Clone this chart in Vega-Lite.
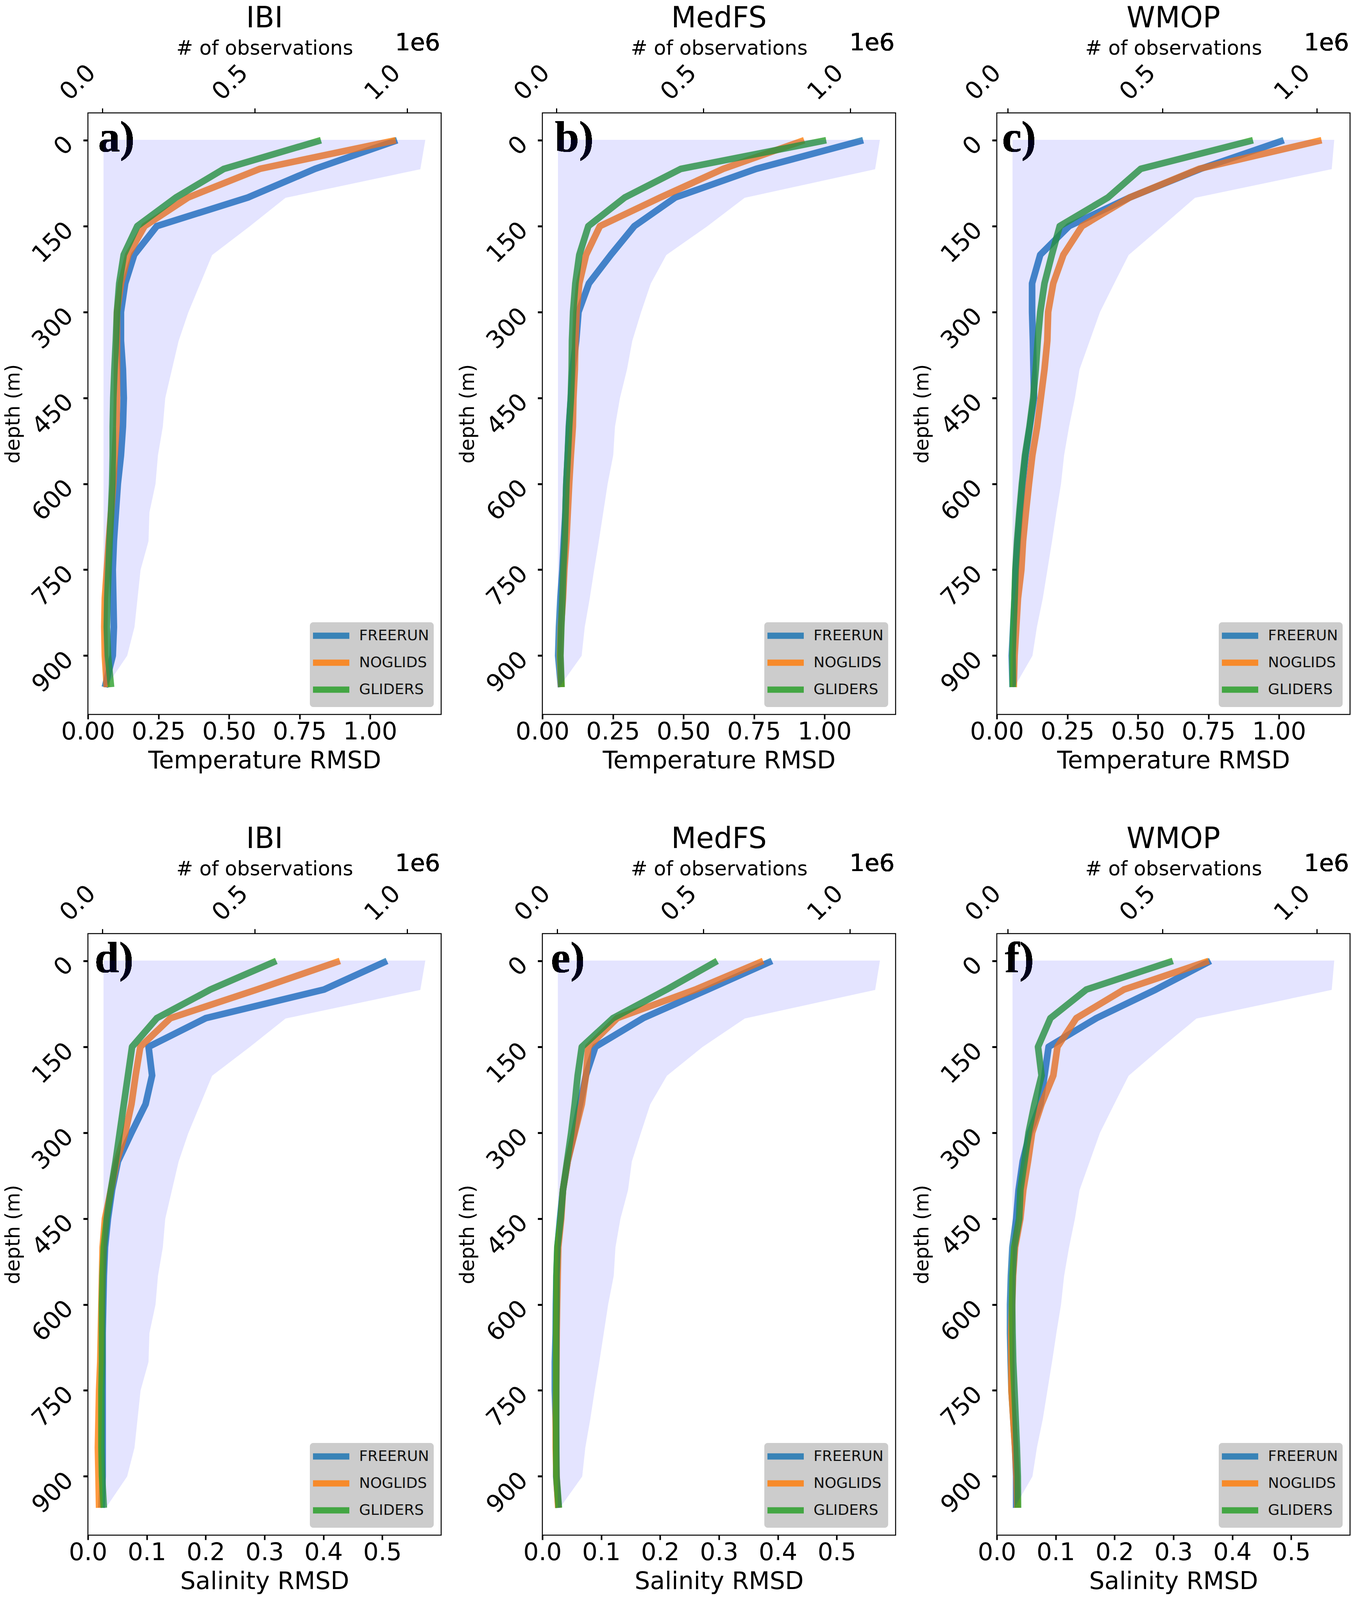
{
"$schema":"https://vega.github.io/schema/vega-lite/v6.json",
"background":"white",
"padding":{"left":6,"top":10,"right":0,"bottom":0},
"datasets":{"rows":[
{"panel":"a","depth":0,"FREERUN":1.096,"NOGLIDS":1.091,"GLIDERS":0.826,"obs":1058000,"obsMin":5000},
{"panel":"a","depth":50,"FREERUN":0.805,"NOGLIDS":0.609,"GLIDERS":0.482,"obs":1042000,"obsMin":5000},
{"panel":"a","depth":100,"FREERUN":0.567,"NOGLIDS":0.355,"GLIDERS":0.312,"obs":600000,"obsMin":5000},
{"panel":"a","depth":150,"FREERUN":0.244,"NOGLIDS":0.201,"GLIDERS":0.175,"obs":482000,"obsMin":5000},
{"panel":"a","depth":200,"FREERUN":0.164,"NOGLIDS":0.143,"GLIDERS":0.127,"obs":359000,"obsMin":5000},
{"panel":"a","depth":250,"FREERUN":0.132,"NOGLIDS":0.117,"GLIDERS":0.111,"obs":320000,"obsMin":5000},
{"panel":"a","depth":300,"FREERUN":0.117,"NOGLIDS":0.103,"GLIDERS":0.103,"obs":281000,"obsMin":5000},
{"panel":"a","depth":350,"FREERUN":0.117,"NOGLIDS":0.103,"GLIDERS":0.099,"obs":249000,"obsMin":5000},
{"panel":"a","depth":400,"FREERUN":0.124,"NOGLIDS":0.103,"GLIDERS":0.094,"obs":227000,"obsMin":5000},
{"panel":"a","depth":450,"FREERUN":0.127,"NOGLIDS":0.103,"GLIDERS":0.09,"obs":205000,"obsMin":5000},
{"panel":"a","depth":500,"FREERUN":0.124,"NOGLIDS":0.101,"GLIDERS":0.088,"obs":197000,"obsMin":5000},
{"panel":"a","depth":550,"FREERUN":0.117,"NOGLIDS":0.095,"GLIDERS":0.088,"obs":181000,"obsMin":5000},
{"panel":"a","depth":600,"FREERUN":0.106,"NOGLIDS":0.09,"GLIDERS":0.086,"obs":173000,"obsMin":5000},
{"panel":"a","depth":650,"FREERUN":0.099,"NOGLIDS":0.082,"GLIDERS":0.082,"obs":153000,"obsMin":5000},
{"panel":"a","depth":700,"FREERUN":0.092,"NOGLIDS":0.074,"GLIDERS":0.077,"obs":150000,"obsMin":5000},
{"panel":"a","depth":750,"FREERUN":0.088,"NOGLIDS":0.067,"GLIDERS":0.073,"obs":124000,"obsMin":5000},
{"panel":"a","depth":800,"FREERUN":0.09,"NOGLIDS":0.06,"GLIDERS":0.069,"obs":114000,"obsMin":5000},
{"panel":"a","depth":850,"FREERUN":0.092,"NOGLIDS":0.058,"GLIDERS":0.067,"obs":104000,"obsMin":5000},
{"panel":"a","depth":900,"FREERUN":0.088,"NOGLIDS":0.06,"GLIDERS":0.071,"obs":80000,"obsMin":5000},
{"panel":"a","depth":955,"FREERUN":0.06,"NOGLIDS":0.067,"GLIDERS":0.082,"obs":10000,"obsMin":5000},
{"panel":"b","depth":0,"FREERUN":1.137,"NOGLIDS":0.928,"GLIDERS":1.006,"obs":1100000,"obsMin":6500},
{"panel":"b","depth":50,"FREERUN":0.758,"NOGLIDS":0.641,"GLIDERS":0.491,"obs":1084000,"obsMin":6500},
{"panel":"b","depth":100,"FREERUN":0.471,"NOGLIDS":0.418,"GLIDERS":0.292,"obs":640000,"obsMin":6500},
{"panel":"b","depth":150,"FREERUN":0.326,"NOGLIDS":0.204,"GLIDERS":0.163,"obs":512000,"obsMin":6500},
{"panel":"b","depth":200,"FREERUN":0.243,"NOGLIDS":0.155,"GLIDERS":0.131,"obs":373000,"obsMin":6500},
{"panel":"b","depth":250,"FREERUN":0.165,"NOGLIDS":0.131,"GLIDERS":0.117,"obs":320000,"obsMin":6500},
{"panel":"b","depth":300,"FREERUN":0.128,"NOGLIDS":0.121,"GLIDERS":0.109,"obs":287000,"obsMin":6500},
{"panel":"b","depth":350,"FREERUN":0.12,"NOGLIDS":0.117,"GLIDERS":0.105,"obs":257000,"obsMin":6500},
{"panel":"b","depth":400,"FREERUN":0.107,"NOGLIDS":0.115,"GLIDERS":0.104,"obs":239000,"obsMin":6500},
{"panel":"b","depth":450,"FREERUN":0.101,"NOGLIDS":0.11,"GLIDERS":0.101,"obs":215000,"obsMin":6500},
{"panel":"b","depth":500,"FREERUN":0.094,"NOGLIDS":0.108,"GLIDERS":0.095,"obs":198000,"obsMin":6500},
{"panel":"b","depth":550,"FREERUN":0.09,"NOGLIDS":0.101,"GLIDERS":0.09,"obs":192000,"obsMin":6500},
{"panel":"b","depth":600,"FREERUN":0.085,"NOGLIDS":0.095,"GLIDERS":0.085,"obs":173000,"obsMin":6500},
{"panel":"b","depth":650,"FREERUN":0.082,"NOGLIDS":0.09,"GLIDERS":0.082,"obs":158000,"obsMin":6500},
{"panel":"b","depth":700,"FREERUN":0.076,"NOGLIDS":0.085,"GLIDERS":0.079,"obs":143000,"obsMin":6500},
{"panel":"b","depth":750,"FREERUN":0.071,"NOGLIDS":0.078,"GLIDERS":0.074,"obs":127000,"obsMin":6500},
{"panel":"b","depth":800,"FREERUN":0.064,"NOGLIDS":0.073,"GLIDERS":0.071,"obs":112000,"obsMin":6500},
{"panel":"b","depth":850,"FREERUN":0.059,"NOGLIDS":0.066,"GLIDERS":0.067,"obs":95000,"obsMin":6500},
{"panel":"b","depth":900,"FREERUN":0.056,"NOGLIDS":0.063,"GLIDERS":0.064,"obs":84500,"obsMin":6500},
{"panel":"b","depth":955,"FREERUN":0.066,"NOGLIDS":0.067,"GLIDERS":0.068,"obs":8000,"obsMin":6500},
{"panel":"c","depth":0,"FREERUN":1.017,"NOGLIDS":1.151,"GLIDERS":0.908,"obs":1055000,"obsMin":16600},
{"panel":"c","depth":50,"FREERUN":0.722,"NOGLIDS":0.717,"GLIDERS":0.51,"obs":1047000,"obsMin":16600},
{"panel":"c","depth":100,"FREERUN":0.471,"NOGLIDS":0.471,"GLIDERS":0.394,"obs":605000,"obsMin":16600},
{"panel":"c","depth":150,"FREERUN":0.256,"NOGLIDS":0.302,"GLIDERS":0.223,"obs":498000,"obsMin":16600},
{"panel":"c","depth":200,"FREERUN":0.154,"NOGLIDS":0.236,"GLIDERS":0.195,"obs":390000,"obsMin":16600},
{"panel":"c","depth":250,"FREERUN":0.125,"NOGLIDS":0.2,"GLIDERS":0.169,"obs":343000,"obsMin":16600},
{"panel":"c","depth":300,"FREERUN":0.125,"NOGLIDS":0.182,"GLIDERS":0.154,"obs":297000,"obsMin":16600},
{"panel":"c","depth":350,"FREERUN":0.128,"NOGLIDS":0.179,"GLIDERS":0.145,"obs":264000,"obsMin":16600},
{"panel":"c","depth":400,"FREERUN":0.13,"NOGLIDS":0.169,"GLIDERS":0.138,"obs":231000,"obsMin":16600},
{"panel":"c","depth":450,"FREERUN":0.132,"NOGLIDS":0.156,"GLIDERS":0.129,"obs":216000,"obsMin":16600},
{"panel":"c","depth":500,"FREERUN":0.117,"NOGLIDS":0.143,"GLIDERS":0.116,"obs":197000,"obsMin":16600},
{"panel":"c","depth":550,"FREERUN":0.102,"NOGLIDS":0.126,"GLIDERS":0.1,"obs":181000,"obsMin":16600},
{"panel":"c","depth":600,"FREERUN":0.091,"NOGLIDS":0.114,"GLIDERS":0.089,"obs":171000,"obsMin":16600},
{"panel":"c","depth":650,"FREERUN":0.082,"NOGLIDS":0.103,"GLIDERS":0.08,"obs":156000,"obsMin":16600},
{"panel":"c","depth":700,"FREERUN":0.074,"NOGLIDS":0.093,"GLIDERS":0.072,"obs":142000,"obsMin":16600},
{"panel":"c","depth":750,"FREERUN":0.067,"NOGLIDS":0.087,"GLIDERS":0.066,"obs":127000,"obsMin":16600},
{"panel":"c","depth":800,"FREERUN":0.063,"NOGLIDS":0.075,"GLIDERS":0.063,"obs":112000,"obsMin":16600},
{"panel":"c","depth":850,"FREERUN":0.058,"NOGLIDS":0.069,"GLIDERS":0.059,"obs":93000,"obsMin":16600},
{"panel":"c","depth":900,"FREERUN":0.053,"NOGLIDS":0.063,"GLIDERS":0.056,"obs":78600,"obsMin":16600},
{"panel":"c","depth":955,"FREERUN":0.056,"NOGLIDS":0.06,"GLIDERS":0.057,"obs":20000,"obsMin":16600},
{"panel":"d","depth":0,"FREERUN":0.508,"NOGLIDS":0.428,"GLIDERS":0.32,"obs":1058000,"obsMin":5000},
{"panel":"d","depth":50,"FREERUN":0.401,"NOGLIDS":0.287,"GLIDERS":0.208,"obs":1042000,"obsMin":5000},
{"panel":"d","depth":100,"FREERUN":0.2,"NOGLIDS":0.14,"GLIDERS":0.117,"obs":600000,"obsMin":5000},
{"panel":"d","depth":150,"FREERUN":0.103,"NOGLIDS":0.089,"GLIDERS":0.075,"obs":482000,"obsMin":5000},
{"panel":"d","depth":200,"FREERUN":0.109,"NOGLIDS":0.081,"GLIDERS":0.068,"obs":359000,"obsMin":5000},
{"panel":"d","depth":250,"FREERUN":0.098,"NOGLIDS":0.074,"GLIDERS":0.061,"obs":320000,"obsMin":5000},
{"panel":"d","depth":300,"FREERUN":0.074,"NOGLIDS":0.0635,"GLIDERS":0.054,"obs":281000,"obsMin":5000},
{"panel":"d","depth":350,"FREERUN":0.051,"NOGLIDS":0.049,"GLIDERS":0.047,"obs":249000,"obsMin":5000},
{"panel":"d","depth":400,"FREERUN":0.041,"NOGLIDS":0.039,"GLIDERS":0.039,"obs":227000,"obsMin":5000},
{"panel":"d","depth":450,"FREERUN":0.034,"NOGLIDS":0.029,"GLIDERS":0.032,"obs":205000,"obsMin":5000},
{"panel":"d","depth":500,"FREERUN":0.029,"NOGLIDS":0.025,"GLIDERS":0.027,"obs":197000,"obsMin":5000},
{"panel":"d","depth":550,"FREERUN":0.027,"NOGLIDS":0.024,"GLIDERS":0.025,"obs":181000,"obsMin":5000},
{"panel":"d","depth":600,"FREERUN":0.026,"NOGLIDS":0.023,"GLIDERS":0.024,"obs":173000,"obsMin":5000},
{"panel":"d","depth":650,"FREERUN":0.025,"NOGLIDS":0.022,"GLIDERS":0.024,"obs":153000,"obsMin":5000},
{"panel":"d","depth":700,"FREERUN":0.025,"NOGLIDS":0.021,"GLIDERS":0.024,"obs":150000,"obsMin":5000},
{"panel":"d","depth":750,"FREERUN":0.025,"NOGLIDS":0.019,"GLIDERS":0.023,"obs":124000,"obsMin":5000},
{"panel":"d","depth":800,"FREERUN":0.025,"NOGLIDS":0.018,"GLIDERS":0.023,"obs":114000,"obsMin":5000},
{"panel":"d","depth":850,"FREERUN":0.025,"NOGLIDS":0.017,"GLIDERS":0.023,"obs":104000,"obsMin":5000},
{"panel":"d","depth":900,"FREERUN":0.025,"NOGLIDS":0.018,"GLIDERS":0.024,"obs":80000,"obsMin":5000},
{"panel":"d","depth":955,"FREERUN":0.023,"NOGLIDS":0.019,"GLIDERS":0.027,"obs":10000,"obsMin":5000},
{"panel":"e","depth":0,"FREERUN":0.39,"NOGLIDS":0.375,"GLIDERS":0.297,"obs":1101000,"obsMin":4000},
{"panel":"e","depth":50,"FREERUN":0.281,"NOGLIDS":0.26,"GLIDERS":0.211,"obs":1085000,"obsMin":4000},
{"panel":"e","depth":100,"FREERUN":0.171,"NOGLIDS":0.127,"GLIDERS":0.12,"obs":640000,"obsMin":4000},
{"panel":"e","depth":150,"FREERUN":0.09,"NOGLIDS":0.078,"GLIDERS":0.067,"obs":495000,"obsMin":4000},
{"panel":"e","depth":200,"FREERUN":0.074,"NOGLIDS":0.074,"GLIDERS":0.06,"obs":374000,"obsMin":4000},
{"panel":"e","depth":250,"FREERUN":0.064,"NOGLIDS":0.067,"GLIDERS":0.055,"obs":317000,"obsMin":4000},
{"panel":"e","depth":300,"FREERUN":0.054,"NOGLIDS":0.055,"GLIDERS":0.049,"obs":285000,"obsMin":4000},
{"panel":"e","depth":350,"FREERUN":0.043,"NOGLIDS":0.043,"GLIDERS":0.042,"obs":254000,"obsMin":4000},
{"panel":"e","depth":400,"FREERUN":0.035,"NOGLIDS":0.035,"GLIDERS":0.035,"obs":241000,"obsMin":4000},
{"panel":"e","depth":450,"FREERUN":0.03,"NOGLIDS":0.032,"GLIDERS":0.031,"obs":215000,"obsMin":4000},
{"panel":"e","depth":500,"FREERUN":0.0257,"NOGLIDS":0.027,"GLIDERS":0.0255,"obs":198000,"obsMin":4000},
{"panel":"e","depth":550,"FREERUN":0.024,"NOGLIDS":0.026,"GLIDERS":0.024,"obs":192000,"obsMin":4000},
{"panel":"e","depth":600,"FREERUN":0.023,"NOGLIDS":0.025,"GLIDERS":0.024,"obs":173000,"obsMin":4000},
{"panel":"e","depth":650,"FREERUN":0.0226,"NOGLIDS":0.0243,"GLIDERS":0.0235,"obs":158000,"obsMin":4000},
{"panel":"e","depth":700,"FREERUN":0.0212,"NOGLIDS":0.0239,"GLIDERS":0.0235,"obs":143000,"obsMin":4000},
{"panel":"e","depth":750,"FREERUN":0.0212,"NOGLIDS":0.0235,"GLIDERS":0.0235,"obs":127000,"obsMin":4000},
{"panel":"e","depth":800,"FREERUN":0.0226,"NOGLIDS":0.0228,"GLIDERS":0.0235,"obs":112000,"obsMin":4000},
{"panel":"e","depth":850,"FREERUN":0.0235,"NOGLIDS":0.0228,"GLIDERS":0.0235,"obs":95000,"obsMin":4000},
{"panel":"e","depth":900,"FREERUN":0.0235,"NOGLIDS":0.024,"GLIDERS":0.024,"obs":84500,"obsMin":4000},
{"panel":"e","depth":955,"FREERUN":0.0274,"NOGLIDS":0.027,"GLIDERS":0.028,"obs":8000,"obsMin":4000},
{"panel":"f","depth":0,"FREERUN":0.363,"NOGLIDS":0.36,"GLIDERS":0.299,"obs":1055000,"obsMin":16600},
{"panel":"f","depth":50,"FREERUN":0.27,"NOGLIDS":0.216,"GLIDERS":0.152,"obs":1047000,"obsMin":16600},
{"panel":"f","depth":100,"FREERUN":0.169,"NOGLIDS":0.135,"GLIDERS":0.091,"obs":610000,"obsMin":16600},
{"panel":"f","depth":150,"FREERUN":0.088,"NOGLIDS":0.103,"GLIDERS":0.07,"obs":498000,"obsMin":16600},
{"panel":"f","depth":200,"FREERUN":0.081,"NOGLIDS":0.096,"GLIDERS":0.076,"obs":390000,"obsMin":16600},
{"panel":"f","depth":250,"FREERUN":0.074,"NOGLIDS":0.076,"GLIDERS":0.064,"obs":343000,"obsMin":16600},
{"panel":"f","depth":300,"FREERUN":0.056,"NOGLIDS":0.06,"GLIDERS":0.054,"obs":297000,"obsMin":16600},
{"panel":"f","depth":350,"FREERUN":0.044,"NOGLIDS":0.053,"GLIDERS":0.047,"obs":264000,"obsMin":16600},
{"panel":"f","depth":400,"FREERUN":0.037,"NOGLIDS":0.045,"GLIDERS":0.04,"obs":231000,"obsMin":16600},
{"panel":"f","depth":450,"FREERUN":0.033,"NOGLIDS":0.04,"GLIDERS":0.038,"obs":216000,"obsMin":16600},
{"panel":"f","depth":500,"FREERUN":0.0265,"NOGLIDS":0.031,"GLIDERS":0.0295,"obs":197000,"obsMin":16600},
{"panel":"f","depth":550,"FREERUN":0.024,"NOGLIDS":0.0276,"GLIDERS":0.0267,"obs":181000,"obsMin":16600},
{"panel":"f","depth":600,"FREERUN":0.0225,"NOGLIDS":0.026,"GLIDERS":0.026,"obs":171000,"obsMin":16600},
{"panel":"f","depth":650,"FREERUN":0.0225,"NOGLIDS":0.0247,"GLIDERS":0.0267,"obs":156000,"obsMin":16600},
{"panel":"f","depth":700,"FREERUN":0.0236,"NOGLIDS":0.0247,"GLIDERS":0.0278,"obs":142000,"obsMin":16600},
{"panel":"f","depth":750,"FREERUN":0.025,"NOGLIDS":0.025,"GLIDERS":0.03,"obs":127000,"obsMin":16600},
{"panel":"f","depth":800,"FREERUN":0.028,"NOGLIDS":0.028,"GLIDERS":0.032,"obs":112000,"obsMin":16600},
{"panel":"f","depth":850,"FREERUN":0.031,"NOGLIDS":0.031,"GLIDERS":0.034,"obs":93000,"obsMin":16600},
{"panel":"f","depth":900,"FREERUN":0.033,"NOGLIDS":0.0335,"GLIDERS":0.0356,"obs":78600,"obsMin":16600},
{"panel":"f","depth":955,"FREERUN":0.033,"NOGLIDS":0.035,"GLIDERS":0.036,"obs":20000,"obsMin":16600}
]},
"columns":3,
"bounds":"flush",
"spacing":{"column":259,"row":561},
"resolve":{"scale":{"color":"independent"},"legend":{"color":"independent"}},
"concat":[
{"title":"IBI","width":904,"height":1540,"data":{"name":"rows"},"transform":[{"filter":"datum.panel=='a'"}],
"resolve":{"scale":{"x":"independent"},"axis":{"x":"independent"}},
"encoding":{"y":{"field":"depth","type":"quantitative","scale":{"domain":[-47.75,1002.75],"reverse":true,"nice":false,"zero":false},"axis":{"title":"depth (m)","values":[0,150,300,450,600,750,900],"orient":"left","labelAngle":-45,"labelAlign":"right","labelBaseline":"middle","labelPadding":36,"labelOffset":0,"titleX":-191,"titleY":770,"titleBaseline":"middle","format":"d"}}},
"layer":[
{"mark":{"type":"line","strokeWidth":17,"opacity":0.8,"strokeCap":"butt","strokeJoin":"round"},"transform":[{"fold":["FREERUN","NOGLIDS","GLIDERS"],"as":["model","rmsd"]}],"encoding":{"x":{"field":"rmsd","type":"quantitative","scale":{"domain":[0,1.252],"nice":false,"zero":false},"axis":{"title":"Temperature RMSD","orient":"bottom","values":[0,0.25,0.5,0.75,1],"format":".2f","titleY":118,"titleBaseline":"middle"}},"order":{"field":"depth","type":"quantitative"},"color":{"field":"model","type":"nominal","scale":{"domain":["FREERUN","NOGLIDS","GLIDERS"],"range":["#1f77b4","#ff7f0e","#2ca02c"]},"legend":{"title":null}}}},
{"mark":{"type":"text","text":"a)","font":"Liberation Serif","fontWeight":"bold","fontSize":112,"align":"left","baseline":"alphabetic"},"encoding":{"x":{"datum":0.029,"type":"quantitative","scale":{"domain":[0,1]},"axis":null},"y":{"datum":20,"type":"quantitative"}}},
{"mark":{"type":"area","orient":"horizontal","color":"blue","opacity":0.1,"stroke":"blue","strokeWidth":2},"encoding":{"x":{"field":"obs","type":"quantitative","scale":{"domain":[-47500,1111500],"nice":false,"zero":false},"axis":{"title":"# of observations","orient":"top","values":[0,500000,1000000],"labelExpr":"format(datum.value/1000000,'.1f')","labelAngle":-45,"labelAlign":"center","labelBaseline":"middle","labelPadding":66,"labelOffset":-63,"titleFontSize":51,"titleX":452,"titleY":-165,"titleBaseline":"middle"}},"x2":{"field":"obsMin"}}},
{"mark":{"type":"text","text":"1e6","fontSize":61,"align":"right","baseline":"middle"},"encoding":{"x":{"datum":0.997,"type":"quantitative","scale":{"domain":[0,1]},"axis":null},"y":{"datum":-169,"type":"quantitative"}}}
]},
{"title":"MedFS","width":904,"height":1540,"data":{"name":"rows"},"transform":[{"filter":"datum.panel=='b'"}],
"resolve":{"scale":{"x":"independent"},"axis":{"x":"independent"}},
"encoding":{"y":{"field":"depth","type":"quantitative","scale":{"domain":[-47.75,1002.75],"reverse":true,"nice":false,"zero":false},"axis":{"title":"depth (m)","values":[0,150,300,450,600,750,900],"orient":"left","labelAngle":-45,"labelAlign":"right","labelBaseline":"middle","labelPadding":36,"labelOffset":0,"titleX":-191,"titleY":770,"titleBaseline":"middle","format":"d"}}},
"layer":[
{"mark":{"type":"line","strokeWidth":17,"opacity":0.8,"strokeCap":"butt","strokeJoin":"round"},"transform":[{"fold":["FREERUN","NOGLIDS","GLIDERS"],"as":["model","rmsd"]}],"encoding":{"x":{"field":"rmsd","type":"quantitative","scale":{"domain":[0,1.252],"nice":false,"zero":false},"axis":{"title":"Temperature RMSD","orient":"bottom","values":[0,0.25,0.5,0.75,1],"format":".2f","titleY":118,"titleBaseline":"middle"}},"order":{"field":"depth","type":"quantitative"},"color":{"field":"model","type":"nominal","scale":{"domain":["FREERUN","NOGLIDS","GLIDERS"],"range":["#1f77b4","#ff7f0e","#2ca02c"]},"legend":{"title":null}}}},
{"mark":{"type":"text","text":"b)","font":"Liberation Serif","fontWeight":"bold","fontSize":112,"align":"left","baseline":"alphabetic"},"encoding":{"x":{"datum":0.035,"type":"quantitative","scale":{"domain":[0,1]},"axis":null},"y":{"datum":20,"type":"quantitative"}}},
{"mark":{"type":"area","orient":"horizontal","color":"blue","opacity":0.1,"stroke":"blue","strokeWidth":2},"encoding":{"x":{"field":"obs","type":"quantitative","scale":{"domain":[-48000,1155000],"nice":false,"zero":false},"axis":{"title":"# of observations","orient":"top","values":[0,500000,1000000],"labelExpr":"format(datum.value/1000000,'.1f')","labelAngle":-45,"labelAlign":"center","labelBaseline":"middle","labelPadding":66,"labelOffset":-63,"titleFontSize":51,"titleX":452,"titleY":-165,"titleBaseline":"middle"}},"x2":{"field":"obsMin"}}},
{"mark":{"type":"text","text":"1e6","fontSize":61,"align":"right","baseline":"middle"},"encoding":{"x":{"datum":0.997,"type":"quantitative","scale":{"domain":[0,1]},"axis":null},"y":{"datum":-169,"type":"quantitative"}}}
]},
{"title":"WMOP","width":904,"height":1540,"data":{"name":"rows"},"transform":[{"filter":"datum.panel=='c'"}],
"resolve":{"scale":{"x":"independent"},"axis":{"x":"independent"}},
"encoding":{"y":{"field":"depth","type":"quantitative","scale":{"domain":[-47.75,1002.75],"reverse":true,"nice":false,"zero":false},"axis":{"title":"depth (m)","values":[0,150,300,450,600,750,900],"orient":"left","labelAngle":-45,"labelAlign":"right","labelBaseline":"middle","labelPadding":36,"labelOffset":0,"titleX":-191,"titleY":770,"titleBaseline":"middle","format":"d"}}},
"layer":[
{"mark":{"type":"line","strokeWidth":17,"opacity":0.8,"strokeCap":"butt","strokeJoin":"round"},"transform":[{"fold":["FREERUN","NOGLIDS","GLIDERS"],"as":["model","rmsd"]}],"encoding":{"x":{"field":"rmsd","type":"quantitative","scale":{"domain":[0,1.252],"nice":false,"zero":false},"axis":{"title":"Temperature RMSD","orient":"bottom","values":[0,0.25,0.5,0.75,1],"format":".2f","titleY":118,"titleBaseline":"middle"}},"order":{"field":"depth","type":"quantitative"},"color":{"field":"model","type":"nominal","scale":{"domain":["FREERUN","NOGLIDS","GLIDERS"],"range":["#1f77b4","#ff7f0e","#2ca02c"]},"legend":{"title":null}}}},
{"mark":{"type":"text","text":"c)","font":"Liberation Serif","fontWeight":"bold","fontSize":112,"align":"left","baseline":"alphabetic"},"encoding":{"x":{"datum":0.015,"type":"quantitative","scale":{"domain":[0,1]},"axis":null},"y":{"datum":20,"type":"quantitative"}}},
{"mark":{"type":"area","orient":"horizontal","color":"blue","opacity":0.1,"stroke":"blue","strokeWidth":2},"encoding":{"x":{"field":"obs","type":"quantitative","scale":{"domain":[-35500,1107500],"nice":false,"zero":false},"axis":{"title":"# of observations","orient":"top","values":[0,500000,1000000],"labelExpr":"format(datum.value/1000000,'.1f')","labelAngle":-45,"labelAlign":"center","labelBaseline":"middle","labelPadding":66,"labelOffset":-63,"titleFontSize":51,"titleX":452,"titleY":-165,"titleBaseline":"middle"}},"x2":{"field":"obsMin"}}},
{"mark":{"type":"text","text":"1e6","fontSize":61,"align":"right","baseline":"middle"},"encoding":{"x":{"datum":0.997,"type":"quantitative","scale":{"domain":[0,1]},"axis":null},"y":{"datum":-169,"type":"quantitative"}}}
]},
{"title":"IBI","width":904,"height":1540,"data":{"name":"rows"},"transform":[{"filter":"datum.panel=='d'"}],
"resolve":{"scale":{"x":"independent"},"axis":{"x":"independent"}},
"encoding":{"y":{"field":"depth","type":"quantitative","scale":{"domain":[-47.75,1002.75],"reverse":true,"nice":false,"zero":false},"axis":{"title":"depth (m)","values":[0,150,300,450,600,750,900],"orient":"left","labelAngle":-45,"labelAlign":"right","labelBaseline":"middle","labelPadding":36,"labelOffset":0,"titleX":-191,"titleY":770,"titleBaseline":"middle","format":"d"}}},
"layer":[
{"mark":{"type":"line","strokeWidth":17,"opacity":0.8,"strokeCap":"butt","strokeJoin":"round"},"transform":[{"fold":["FREERUN","NOGLIDS","GLIDERS"],"as":["model","rmsd"]}],"encoding":{"x":{"field":"rmsd","type":"quantitative","scale":{"domain":[0,0.6],"nice":false,"zero":false},"axis":{"title":"Salinity RMSD","orient":"bottom","values":[0,0.1,0.2,0.3,0.4,0.5],"format":".1f","titleY":118,"titleBaseline":"middle"}},"order":{"field":"depth","type":"quantitative"},"color":{"field":"model","type":"nominal","scale":{"domain":["FREERUN","NOGLIDS","GLIDERS"],"range":["#1f77b4","#ff7f0e","#2ca02c"]},"legend":{"title":null}}}},
{"mark":{"type":"text","text":"d)","font":"Liberation Serif","fontWeight":"bold","fontSize":112,"align":"left","baseline":"alphabetic"},"encoding":{"x":{"datum":0.019,"type":"quantitative","scale":{"domain":[0,1]},"axis":null},"y":{"datum":20,"type":"quantitative"}}},
{"mark":{"type":"area","orient":"horizontal","color":"blue","opacity":0.1,"stroke":"blue","strokeWidth":2},"encoding":{"x":{"field":"obs","type":"quantitative","scale":{"domain":[-47500,1111500],"nice":false,"zero":false},"axis":{"title":"# of observations","orient":"top","values":[0,500000,1000000],"labelExpr":"format(datum.value/1000000,'.1f')","labelAngle":-45,"labelAlign":"center","labelBaseline":"middle","labelPadding":66,"labelOffset":-63,"titleFontSize":51,"titleX":452,"titleY":-165,"titleBaseline":"middle"}},"x2":{"field":"obsMin"}}},
{"mark":{"type":"text","text":"1e6","fontSize":61,"align":"right","baseline":"middle"},"encoding":{"x":{"datum":0.997,"type":"quantitative","scale":{"domain":[0,1]},"axis":null},"y":{"datum":-169,"type":"quantitative"}}}
]},
{"title":"MedFS","width":904,"height":1540,"data":{"name":"rows"},"transform":[{"filter":"datum.panel=='e'"}],
"resolve":{"scale":{"x":"independent"},"axis":{"x":"independent"}},
"encoding":{"y":{"field":"depth","type":"quantitative","scale":{"domain":[-47.75,1002.75],"reverse":true,"nice":false,"zero":false},"axis":{"title":"depth (m)","values":[0,150,300,450,600,750,900],"orient":"left","labelAngle":-45,"labelAlign":"right","labelBaseline":"middle","labelPadding":36,"labelOffset":0,"titleX":-191,"titleY":770,"titleBaseline":"middle","format":"d"}}},
"layer":[
{"mark":{"type":"line","strokeWidth":17,"opacity":0.8,"strokeCap":"butt","strokeJoin":"round"},"transform":[{"fold":["FREERUN","NOGLIDS","GLIDERS"],"as":["model","rmsd"]}],"encoding":{"x":{"field":"rmsd","type":"quantitative","scale":{"domain":[0,0.6],"nice":false,"zero":false},"axis":{"title":"Salinity RMSD","orient":"bottom","values":[0,0.1,0.2,0.3,0.4,0.5],"format":".1f","titleY":118,"titleBaseline":"middle"}},"order":{"field":"depth","type":"quantitative"},"color":{"field":"model","type":"nominal","scale":{"domain":["FREERUN","NOGLIDS","GLIDERS"],"range":["#1f77b4","#ff7f0e","#2ca02c"]},"legend":{"title":null}}}},
{"mark":{"type":"text","text":"e)","font":"Liberation Serif","fontWeight":"bold","fontSize":112,"align":"left","baseline":"alphabetic"},"encoding":{"x":{"datum":0.024,"type":"quantitative","scale":{"domain":[0,1]},"axis":null},"y":{"datum":20,"type":"quantitative"}}},
{"mark":{"type":"area","orient":"horizontal","color":"blue","opacity":0.1,"stroke":"blue","strokeWidth":2},"encoding":{"x":{"field":"obs","type":"quantitative","scale":{"domain":[-50300,1156000],"nice":false,"zero":false},"axis":{"title":"# of observations","orient":"top","values":[0,500000,1000000],"labelExpr":"format(datum.value/1000000,'.1f')","labelAngle":-45,"labelAlign":"center","labelBaseline":"middle","labelPadding":66,"labelOffset":-63,"titleFontSize":51,"titleX":452,"titleY":-165,"titleBaseline":"middle"}},"x2":{"field":"obsMin"}}},
{"mark":{"type":"text","text":"1e6","fontSize":61,"align":"right","baseline":"middle"},"encoding":{"x":{"datum":0.997,"type":"quantitative","scale":{"domain":[0,1]},"axis":null},"y":{"datum":-169,"type":"quantitative"}}}
]},
{"title":"WMOP","width":904,"height":1540,"data":{"name":"rows"},"transform":[{"filter":"datum.panel=='f'"}],
"resolve":{"scale":{"x":"independent"},"axis":{"x":"independent"}},
"encoding":{"y":{"field":"depth","type":"quantitative","scale":{"domain":[-47.75,1002.75],"reverse":true,"nice":false,"zero":false},"axis":{"title":"depth (m)","values":[0,150,300,450,600,750,900],"orient":"left","labelAngle":-45,"labelAlign":"right","labelBaseline":"middle","labelPadding":36,"labelOffset":0,"titleX":-191,"titleY":770,"titleBaseline":"middle","format":"d"}}},
"layer":[
{"mark":{"type":"line","strokeWidth":17,"opacity":0.8,"strokeCap":"butt","strokeJoin":"round"},"transform":[{"fold":["FREERUN","NOGLIDS","GLIDERS"],"as":["model","rmsd"]}],"encoding":{"x":{"field":"rmsd","type":"quantitative","scale":{"domain":[0,0.6],"nice":false,"zero":false},"axis":{"title":"Salinity RMSD","orient":"bottom","values":[0,0.1,0.2,0.3,0.4,0.5],"format":".1f","titleY":118,"titleBaseline":"middle"}},"order":{"field":"depth","type":"quantitative"},"color":{"field":"model","type":"nominal","scale":{"domain":["FREERUN","NOGLIDS","GLIDERS"],"range":["#1f77b4","#ff7f0e","#2ca02c"]},"legend":{"title":null}}}},
{"mark":{"type":"text","text":"f)","font":"Liberation Serif","fontWeight":"bold","fontSize":112,"align":"left","baseline":"alphabetic"},"encoding":{"x":{"datum":0.023,"type":"quantitative","scale":{"domain":[0,1]},"axis":null},"y":{"datum":20,"type":"quantitative"}}},
{"mark":{"type":"area","orient":"horizontal","color":"blue","opacity":0.1,"stroke":"blue","strokeWidth":2},"encoding":{"x":{"field":"obs","type":"quantitative","scale":{"domain":[-35500,1107500],"nice":false,"zero":false},"axis":{"title":"# of observations","orient":"top","values":[0,500000,1000000],"labelExpr":"format(datum.value/1000000,'.1f')","labelAngle":-45,"labelAlign":"center","labelBaseline":"middle","labelPadding":66,"labelOffset":-63,"titleFontSize":51,"titleX":452,"titleY":-165,"titleBaseline":"middle"}},"x2":{"field":"obsMin"}}},
{"mark":{"type":"text","text":"1e6","fontSize":61,"align":"right","baseline":"middle"},"encoding":{"x":{"datum":0.997,"type":"quantitative","scale":{"domain":[0,1]},"axis":null},"y":{"datum":-169,"type":"quantitative"}}}
]}
],
"config":{
"font":"DejaVu Sans",
"view":{"stroke":"black","strokeWidth":2.5},
"title":{"fontSize":74,"fontWeight":"normal","color":"black","anchor":"middle","offset":-6},
"text":{"color":"black"},
"axis":{"grid":false,"domain":false,"tickColor":"black","tickWidth":3,"tickSize":12,"labelFontSize":62,"titleFontSize":62,"labelColor":"black","titleColor":"black","titleFontWeight":"normal","labelOverlap":false,"labelFlush":false,"labelBound":false},
"axisLeft":{"titleFontSize":51,"tickWidth":5},
"axisBottom":{"tickWidth":4},
"legend":{"orient":"bottom-right","offset":20,"fillColor":"#cccccc","cornerRadius":8,"strokeColor":"#cccccc","padding":11,"labelFontSize":38,"labelColor":"#111111","labelLimit":400,"symbolType":"M-3,0H3","symbolSize":961,"symbolStrokeWidth":16,"symbolOpacity":0.85,"symbolOffset":20,"labelOffset":48,"rowPadding":4}
}
}
